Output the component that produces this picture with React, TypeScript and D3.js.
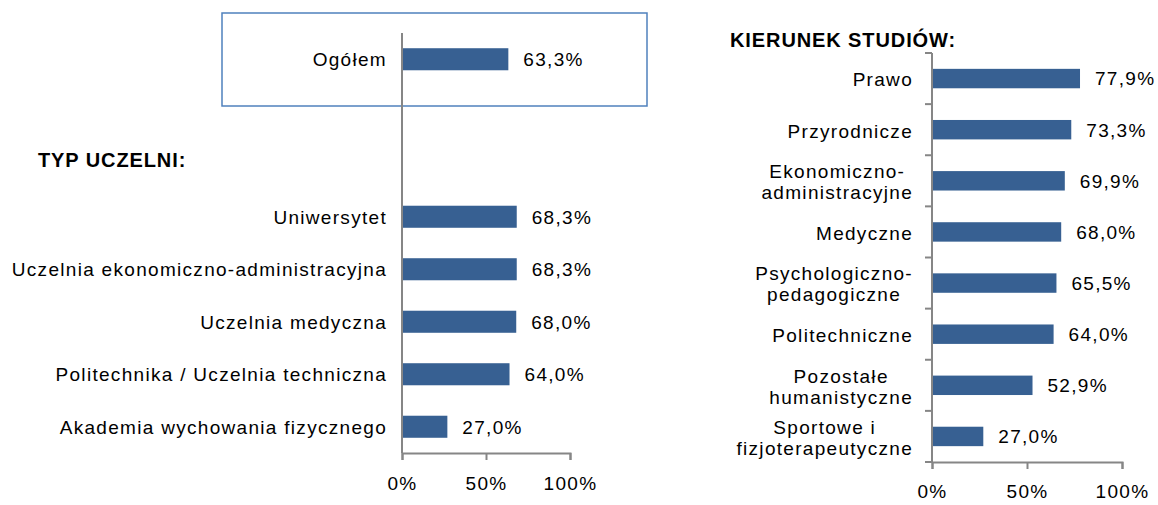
import React, { useEffect, useRef } from 'react';
import * as d3 from 'd3';

// typ uczelni (rows 2 and 3 are the gap and the section header)
const leftCategories = ['Ogółem', '_gap', '_header', 'Uniwersytet', 'Uczelnia ekonomiczno-administracyjna', 'Uczelnia medyczna', 'Politechnika / Uczelnia techniczna', 'Akademia wychowania fizycznego'];
const leftValues = [63.3, null, null, 68.3, 68.3, 68.0, 64.0, 27.0];
const leftHeader = 'TYP UCZELNI:';

// kierunek studiów
const rightCategories = [['Prawo'], ['Przyrodnicze'], ['Ekonomiczno-', 'administracyjne'], ['Medyczne'], ['Psychologiczno-', 'pedagogiczne'], ['Politechniczne'], ['Pozostałe', 'humanistyczne'], ['Sportowe i', 'fizjoterapeutyczne']];
const rightValues = [77.9, 73.3, 69.9, 68.0, 65.5, 64.0, 52.9, 27.0];
const rightHeader = 'KIERUNEK STUDIÓW:';

const xTicks = [0, 50, 100];

const FONT = '"Liberation Sans", Arial, sans-serif';
const BAR = '#376092';
const AXIS = '#868686';
const FS = '19px';
const LS = '1.3px';

const fmt = (v: number) => v.toFixed(1).replace('.', ',') + '%';

function App() {
    const ref = useRef<SVGSVGElement>(null);

    useEffect(() => {
        const svg = d3.select(ref.current);
        svg.selectAll('*').remove();
        svg.style('font-family', FONT);

        // ---------- left chart ----------
        const lx = d3.scaleLinear().domain([0, 100]).range([402, 570]);
        const ly = d3.scaleBand().domain(leftCategories.map((d, i) => String(i)))
            .range([33, 453]).paddingInner(0.58).paddingOuter(0.29);

        // box around "Ogółem"
        svg.append('rect')
            .attr('x', 222).attr('y', 13).attr('width', 425).attr('height', 93)
            .attr('fill', 'none').attr('stroke', '#4F81BD').attr('stroke-width', 1.5);

        const left = svg.append('g');
        const leftData = leftValues.map((v, i) => ({ v, i })).filter(d => d.v != null);
        left.selectAll('rect.bar')
            .data(leftData)
            .enter().append('rect')
            .attr('class', 'bar')
            .attr('x', lx(0))
            .attr('y', d => ly(String(d.i))!)
            .attr('width', d => lx(d.v!) - lx(0))
            .attr('height', ly.bandwidth())
            .attr('fill', BAR);

        left.selectAll('text.val')
            .data(leftData)
            .enter().append('text')
            .attr('class', 'val')
            .attr('x', d => lx(d.v!) + 15)
            .attr('y', d => ly(String(d.i))! + ly.bandwidth() / 2)
            .attr('dy', '0.36em')
            .style('font-size', FS).style('letter-spacing', LS)
            .text(d => fmt(d.v!));

        left.selectAll('text.cat')
            .data(leftCategories.map((c, i) => ({ c, i })).filter(d => !d.c.startsWith('_')))
            .enter().append('text')
            .attr('class', 'cat')
            .attr('x', 387)
            .attr('y', d => ly(String(d.i))! + ly.bandwidth() / 2)
            .attr('dy', '0.36em')
            .attr('text-anchor', 'end')
            .style('font-size', FS).style('letter-spacing', LS)
            .text(d => d.c);

        left.append('text')
            .attr('x', 38)
            .attr('y', ly('2')! + ly.bandwidth() / 2 - 4)
            .attr('dy', '0.36em')
            .style('font-size', '20px').style('font-weight', 'bold').style('letter-spacing', '0.9px')
            .text(leftHeader);

        // axes
        left.append('line').attr('x1', lx(0)).attr('x2', lx(0)).attr('y1', 33).attr('y2', 453)
            .attr('stroke', AXIS).attr('stroke-width', 2);
        const lAxis = left.append('g').attr('transform', 'translate(0,453)')
            .call(d3.axisBottom(lx).tickValues(xTicks).tickSize(7).tickPadding(17).tickFormat(d => d + '%'));
        lAxis.select('.domain').attr('stroke', AXIS).attr('stroke-width', 2);
        lAxis.selectAll('.tick line').attr('stroke', AXIS).attr('stroke-width', 2);
        lAxis.selectAll('.tick text').attr('fill', '#000')
            .style('font-size', FS).style('font-family', FONT).style('letter-spacing', LS);

        // ---------- right chart ----------
        const rx = d3.scaleLinear().domain([0, 100]).range([932, 1122]);
        const ry = d3.scaleBand().domain(rightCategories.map((d, i) => String(i)))
            .range([53, 462]).paddingInner(0.62).paddingOuter(0.31);

        const right = svg.append('g');
        right.selectAll('rect.bar')
            .data(rightValues)
            .enter().append('rect')
            .attr('class', 'bar')
            .attr('x', rx(0))
            .attr('y', (d, i) => ry(String(i))!)
            .attr('width', d => rx(d) - rx(0))
            .attr('height', ry.bandwidth())
            .attr('fill', BAR);

        right.selectAll('text.val')
            .data(rightValues)
            .enter().append('text')
            .attr('class', 'val')
            .attr('x', d => rx(d) + 15)
            .attr('y', (d, i) => ry(String(i))! + ry.bandwidth() / 2)
            .attr('dy', '0.36em')
            .style('font-size', FS).style('letter-spacing', LS)
            .text(d => fmt(d));

        // category labels: centred lines, block right-aligned against the axis
        rightCategories.forEach((lines, i) => {
            const g = right.append('g');
            const t = g.append('text')
                .attr('text-anchor', 'middle')
                .style('font-size', FS).style('letter-spacing', LS);
            const lh = 21;
            const cy = ry(String(i))! + ry.bandwidth() / 2 + 1;
            lines.forEach((line, j) => {
                t.append('tspan')
                    .attr('x', 0)
                    .attr('y', cy + (j - (lines.length - 1) / 2) * lh)
                    .attr('dy', '0.36em')
                    .text(line);
            });
            const bb = (t.node() as SVGTextElement).getBBox();
            g.attr('transform', `translate(${913 - (bb.x + bb.width)},0)`);
        });

        right.append('text')
            .attr('x', 730).attr('y', 40).attr('dy', '0.36em')
            .style('font-size', '20px').style('font-weight', 'bold').style('letter-spacing', '0.9px')
            .text(rightHeader);

        // category boundary ticks
        right.selectAll('line.sep')
            .data(d3.range(rightCategories.length + 1))
            .enter().append('line')
            .attr('class', 'sep')
            .attr('x1', rx(0) - 7).attr('x2', rx(0))
            .attr('y1', i => 53 + i * ry.step()).attr('y2', i => 53 + i * ry.step())
            .attr('stroke', AXIS).attr('stroke-width', 2);
        right.append('line').attr('x1', rx(0)).attr('x2', rx(0)).attr('y1', 53).attr('y2', 462)
            .attr('stroke', AXIS).attr('stroke-width', 2);
        const rAxis = right.append('g').attr('transform', 'translate(0,462)')
            .call(d3.axisBottom(rx).tickValues(xTicks).tickSize(7).tickPadding(16).tickFormat(d => d + '%'));
        rAxis.select('.domain').attr('stroke', AXIS).attr('stroke-width', 2);
        rAxis.selectAll('.tick line').attr('stroke', AXIS).attr('stroke-width', 2);
        rAxis.selectAll('.tick text').attr('fill', '#000')
            .style('font-size', FS).style('font-family', FONT).style('letter-spacing', LS);
    }, []);

    return (
        <svg ref={ref} width={1158} height={505}
            style={{ position: 'absolute', left: 0, top: 0, background: '#fff' }} />
    );
}

export default App;
